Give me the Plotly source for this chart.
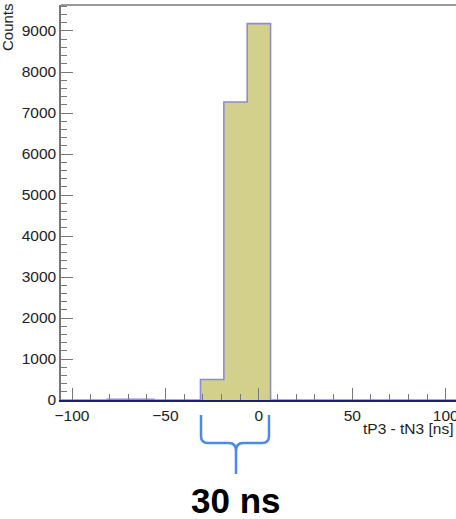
import numpy as np
import plotly.graph_objects as go

# ---- data ----
bin_width = 12.5
bin_centers = [-100, -87.5, -75, -62.5, -50, -37.5, -25, -12.5, 0,
               12.5, 25, 37.5, 50, 62.5, 75, 87.5, 100]
counts = [0, 0, 15, 15, 0, 0, 500, 7270, 9180,
          0, 0, 0, 0, 0, 0, 0, 0]
x_tick_vals = [-100, -50, 0, 50, 100]
y_tick_vals = [0, 1000, 2000, 3000, 4000, 5000, 6000, 7000, 8000, 9000]
x_title = "tP3 - tN3 [ns]"
y_title = "Counts"
brace_label = "30 ns"

# ---- layout constants (pixels) ----
W, H = 456, 519
L, R, T, B = 61, 0, 5, 119
PW, PH = W - L - R, H - T - B
XR = [-105.9, 105.5]
YR = [0, 9634]

def px2x(px):
    return XR[0] + (px - L) / PW * (XR[1] - XR[0])

def py2p(py):
    return (H - B - py) / PH

edges = [c - bin_width / 2 for c in bin_centers] + [bin_centers[-1] + bin_width / 2]
step_x = edges
step_y = counts + [counts[-1]]

fill_col = "#D3D08B"
line_col = "#8C8CD2"

fig = go.Figure()
fig.add_trace(go.Scatter(
    x=step_x, y=step_y, mode="lines", line_shape="hv",
    fill="tozeroy", fillcolor=fill_col,
    line=dict(color=line_col, width=1.6), hoverinfo="skip",
))

font_fam = "Liberation Sans, Arial, sans-serif"

fig.update_layout(
    width=W, height=H,
    margin=dict(l=L, r=R, t=T, b=B, pad=0, autoexpand=False),
    paper_bgcolor="white", plot_bgcolor="white",
    showlegend=False,
    font=dict(family=font_fam, size=15.5, color="#222"),
    xaxis=dict(
        range=XR, tickvals=x_tick_vals, automargin=False,
        ticktext=["\u2212100", "\u221250", "0", "50", "100"],
        ticklabeloverflow="allow",
        ticks="inside", ticklen=12, tickwidth=1.2, tickcolor="#777",
        minor=dict(dtick=10, ticks="inside", ticklen=6, tickwidth=1.2, tickcolor="#777"),
        showgrid=False, zeroline=False,
        showline=True, linecolor="#1E1E7A", linewidth=2,
        tickfont=dict(size=15.5, color="#222"),
    ),
    yaxis=dict(
        range=YR, tickvals=y_tick_vals, automargin=False,
        ticks="inside", ticklen=12, tickwidth=1.2, tickcolor="#777",
        minor=dict(dtick=200, ticks="inside", ticklen=6, tickwidth=1.2, tickcolor="#777"),
        showgrid=False, zeroline=False,
        showline=True, linecolor="#777", linewidth=1.5,
        tickfont=dict(size=15.5, color="#222"),
    ),
)

# top frame line
fig.add_shape(type="line", xref="paper", yref="paper", x0=0, x1=1, y0=1, y1=1,
              line=dict(color="#777", width=1.5))

# axis titles
fig.add_annotation(text=x_title, xref="paper", yref="paper",
                   x=(455 - L) / PW, y=py2p(428), xanchor="right", yanchor="middle",
                   showarrow=False, font=dict(size=15.5, color="#222"))
fig.add_annotation(text=y_title, xref="paper", yref="paper",
                   x=(8 - L) / PW, y=py2p(1), xanchor="center", yanchor="top",
                   textangle=-90, showarrow=False, font=dict(size=15, color="#222"))

# brace below the histogram peak
pts_left, pts_right, stem = 201, 269, 236
ytop, yh, ybot = 415, 443, 474
def P(px, py):
    return f"{px2x(px):.4f},{py2p(py):.5f}"
path = ("M " + P(pts_left, ytop) + " L " + P(pts_left, yh - 7) +
        " Q " + P(pts_left, yh) + " " + P(pts_left + 7, yh) +
        " L " + P(stem - 7, yh) +
        " Q " + P(stem, yh) + " " + P(stem, yh + 8) +
        " L " + P(stem, ybot) +
        " M " + P(stem, yh + 8) +
        " Q " + P(stem, yh) + " " + P(stem + 7, yh) +
        " L " + P(pts_right - 7, yh) +
        " Q " + P(pts_right, yh) + " " + P(pts_right, yh - 7) +
        " L " + P(pts_right, ytop))
fig.add_shape(type="path", xref="x", yref="paper", path=path,
              line=dict(color="#4A8AEA", width=2.5))

fig.add_annotation(text="<b>" + brace_label + "</b>", xref="x", yref="paper",
                   x=px2x(236), y=py2p(500), xanchor="center", yanchor="middle",
                   showarrow=False, font=dict(size=35, color="black",
                                              family="Liberation Sans, Arial, sans-serif"))

fig.write_html("out.html", config={"displayModeBar": False},
               post_script="document.body.style.margin='0';document.body.style.overflow='hidden';")
